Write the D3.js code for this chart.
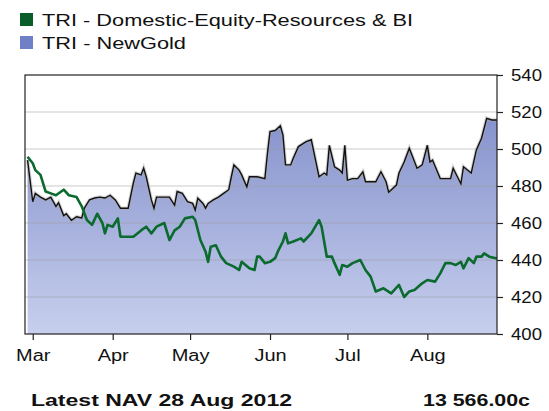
<!DOCTYPE html>
<html>
<head>
<meta charset="utf-8">
<script src="https://cdn.jsdelivr.net/npm/d3@7"></script>
<style>
  body { margin: 0; background: #fff; }
  text { font-family: "Liberation Sans", Arial, sans-serif; }
</style>
</head>
<body>
<div id="chart"></div>
<script>
const seriesNames = ["TRI - Domestic-Equity-Resources & BI", "TRI - NewGold"];

const goldDates = ["2012-02-28","2012-03-01","2012-03-02","2012-03-04","2012-03-06","2012-03-08","2012-03-10","2012-03-11","2012-03-13","2012-03-14","2012-03-16","2012-03-18","2012-03-20","2012-03-21","2012-03-23","2012-03-25","2012-03-27","2012-03-29","2012-03-31","2012-04-02","2012-04-04","2012-04-07","2012-04-09","2012-04-10","2012-04-12","2012-04-13","2012-04-14","2012-04-16","2012-04-17","2012-04-18","2012-04-21","2012-04-23","2012-04-25","2012-04-26","2012-04-28","2012-04-30","2012-05-02","2012-05-03","2012-05-04","2012-05-06","2012-05-07","2012-05-08","2012-05-10","2012-05-12","2012-05-14","2012-05-16","2012-05-17","2012-05-18","2012-05-20","2012-05-21","2012-05-23","2012-05-24","2012-05-27","2012-05-30","2012-05-31","2012-06-01","2012-06-03","2012-06-05","2012-06-06","2012-06-07","2012-06-09","2012-06-10","2012-06-12","2012-06-15","2012-06-17","2012-06-20","2012-06-22","2012-06-23","2012-06-24","2012-06-26","2012-06-28","2012-06-29","2012-06-30","2012-07-01","2012-07-03","2012-07-05","2012-07-07","2012-07-08","2012-07-12","2012-07-14","2012-07-16","2012-07-17","2012-07-20","2012-07-21","2012-07-23","2012-07-25","2012-07-28","2012-07-30","2012-08-01","2012-08-02","2012-08-03","2012-08-06","2012-08-10","2012-08-11","2012-08-14","2012-08-15","2012-08-18","2012-08-20","2012-08-22","2012-08-24","2012-08-26","2012-08-28"];
const goldValues = [494,471.5,476,474,472.5,474,469,471,464,465,461.5,463.4,462.7,468,472.5,473.5,474,473.5,475,472.5,468,468,481.6,487,486,489.6,485,472.5,468,474,474,474,469.7,477,476,471.5,470.6,467,473.4,470.6,468,470.6,472.5,474,476,478,485,491.4,488.6,486,479.6,485,485,484,497.7,509.4,510,512.6,507.6,491.4,491.4,495,501.3,504,505,485,487,486,502,490.4,488.6,487,502,483.2,484,484,487.7,482.3,482.3,487.7,482.3,476.6,480.5,487,493,500.4,489.6,491.4,502,493,494,484,484,489.6,481.2,490.4,487,499.5,505.8,516.6,515.7,515.7];

const equityDates = ["2012-02-28","2012-03-01","2012-03-02","2012-03-04","2012-03-06","2012-03-08","2012-03-10","2012-03-13","2012-03-15","2012-03-18","2012-03-20","2012-03-22","2012-03-24","2012-03-26","2012-03-28","2012-03-29","2012-03-30","2012-04-01","2012-04-03","2012-04-04","2012-04-09","2012-04-12","2012-04-14","2012-04-16","2012-04-18","2012-04-21","2012-04-23","2012-04-25","2012-04-27","2012-04-29","2012-05-02","2012-05-03","2012-05-05","2012-05-07","2012-05-08","2012-05-09","2012-05-11","2012-05-13","2012-05-15","2012-05-18","2012-05-20","2012-05-21","2012-05-24","2012-05-26","2012-05-27","2012-05-28","2012-05-30","2012-06-01","2012-06-03","2012-06-04","2012-06-06","2012-06-07","2012-06-08","2012-06-10","2012-06-13","2012-06-14","2012-06-17","2012-06-20","2012-06-21","2012-06-23","2012-06-25","2012-06-26","2012-06-28","2012-06-29","2012-07-01","2012-07-03","2012-07-06","2012-07-08","2012-07-10","2012-07-12","2012-07-15","2012-07-18","2012-07-21","2012-07-23","2012-07-25","2012-07-27","2012-07-30","2012-08-01","2012-08-04","2012-08-06","2012-08-08","2012-08-10","2012-08-12","2012-08-14","2012-08-15","2012-08-17","2012-08-19","2012-08-20","2012-08-22","2012-08-23","2012-08-25","2012-08-28"];
const equityValues = [495.8,492.3,488.6,486,477,476,475,478,475,474,469,461.6,459,465,460,454.4,459,458,462.5,452.6,452.6,456,458,454.4,458,460,450.8,456,458,462.5,463.4,461.6,450.8,444.5,439,447.2,448,441.8,438.3,436.4,434.6,439,435.5,434.6,441.8,441.8,438.3,439,441,444.5,450,454.4,449,450,451.7,450,454.4,461.6,458,441.8,441.8,438.3,432,437.3,436.4,438.3,440,434.6,431,423,424.7,422,426.5,420,423,423.8,427.4,429.2,428.3,432.8,438.3,438.3,437.3,439,435.5,441,438.3,441.8,441.8,443.6,441.8,440.8];

const yTicks = [400, 420, 440, 460, 480, 500, 520, 540];
const monthTicks = ["2012-03-01","2012-04-01","2012-05-01","2012-06-01","2012-07-01","2012-08-01"];
const footerLeft = "Latest NAV 28 Aug 2012";
const footerRight = "13 566.00c";

const width = 549;
const height = 411;
const margin = { top: 75, right: 52, bottom: 77, left: 25 };
const innerW = width - margin.left - margin.right;
const innerH = height - margin.top - margin.bottom;

const parse = d3.timeParse("%Y-%m-%d");
const gold = goldDates.map((d, i) => ({ date: parse(d), value: goldValues[i] }));
const equity = equityDates.map((d, i) => ({ date: parse(d), value: equityValues[i] }));

const svg = d3.select("#chart")
    .append("svg")
    .attr("width", width)
    .attr("height", height);

const x = d3.scaleTime()
    .domain([parse("2012-02-27"), parse("2012-08-28")])
    .range([margin.left, margin.left + innerW]);

const y = d3.scaleLinear()
    .domain([400, 540])
    .range([margin.top + innerH, margin.top]);

// gradient for the NewGold area
const grad = svg.append("defs").append("linearGradient")
    .attr("id", "goldFill")
    .attr("gradientUnits", "userSpaceOnUse")
    .attr("x1", 0).attr("x2", 0)
    .attr("y1", y(520)).attr("y2", y(400));
grad.append("stop").attr("offset", "0%").attr("stop-color", "#8591cc");
grad.append("stop").attr("offset", "100%").attr("stop-color", "#c7cfed");

const area = d3.area()
    .x(d => x(d.date))
    .y0(y(400))
    .y1(d => y(d.value));

const line = d3.line()
    .x(d => x(d.date))
    .y(d => y(d.value));

svg.append("path")
    .datum(gold)
    .attr("d", area)
    .attr("fill", "url(#goldFill)");

// grid lines
svg.append("g")
    .selectAll("line")
    .data(yTicks.slice(1, -1))
    .enter()
    .append("line")
    .attr("x1", margin.left)
    .attr("x2", margin.left + innerW)
    .attr("y1", d => y(d))
    .attr("y2", d => y(d))
    .style("stroke", "#9a9a9a")
    .style("stroke-opacity", 0.35)
    .style("stroke-width", 1.5);

svg.append("path")
    .datum(gold)
    .attr("d", line)
    .attr("fill", "none")
    .style("stroke", "#aaa")
    .style("stroke-width", 3.5)
    .style("stroke-opacity", 0.5);

svg.append("path")
    .datum(gold)
    .attr("d", line)
    .attr("fill", "none")
    .style("stroke", "#111")
    .style("stroke-width", 1.4);

svg.append("path")
    .datum(equity)
    .attr("d", line)
    .attr("fill", "none")
    .style("stroke", "#0b6b2e")
    .style("stroke-width", 2.6)
    .style("stroke-linejoin", "round");

// frame
svg.append("rect")
    .attr("x", margin.left)
    .attr("y", margin.top)
    .attr("width", innerW)
    .attr("height", innerH)
    .attr("fill", "none")
    .style("stroke", "#222")
    .style("stroke-width", 1.2);

const yAxis = svg.append("g")
    .attr("transform", `translate(${margin.left + innerW},0)`)
    .call(d3.axisRight(y).tickValues(yTicks).tickSize(6).tickPadding(8).tickFormat(d3.format("d")));

const xAxis = svg.append("g")
    .attr("transform", `translate(0,${margin.top + innerH})`)
    .call(d3.axisBottom(x).tickValues(monthTicks.map(parse)).tickSize(6).tickPadding(10).tickFormat(d3.timeFormat("%b")));

[yAxis, xAxis].forEach(g => {
    g.select(".domain").remove();
    g.selectAll("line").style("stroke", "#222").style("stroke-width", 1.2);
    g.selectAll("text")
        .style("font-family", '"Liberation Sans", Arial, sans-serif')
        .style("font-size", "16px")
        .style("fill", "#111");
});
// the source picture has wide lettering, so stretch labels sideways
yAxis.selectAll("text")
    .attr("dy", "0.35em")
    .attr("x", 0)
    .attr("transform", "translate(14,0) scale(1.16,1)");
xAxis.selectAll("text")
    .attr("transform", "scale(1.25,1)");

// legend
const legend = svg.append("g");
const legendColors = ["#0a5c29", "#6f80c6"];
const legendWidths = [371, 144];
seriesNames.forEach((name, i) => {
    legend.append("rect")
        .attr("x", 20)
        .attr("y", 13 + i * 23)
        .attr("width", 13)
        .attr("height", 13)
        .attr("fill", legendColors[i]);
    legend.append("text")
        .attr("x", 42)
        .attr("y", 26 + i * 23)
        .attr("textLength", legendWidths[i])
        .attr("lengthAdjust", "spacingAndGlyphs")
        .style("font-size", "17px")
        .style("fill", "#111")
        .text(name);
});

svg.append("text")
    .attr("x", 31)
    .attr("y", 406)
    .attr("textLength", 261)
    .attr("lengthAdjust", "spacingAndGlyphs")
    .style("font-size", "17px")
    .style("font-weight", "bold")
    .style("fill", "#111")
    .text(footerLeft);

svg.append("text")
    .attr("x", 423)
    .attr("y", 406)
    .attr("textLength", 107)
    .attr("lengthAdjust", "spacingAndGlyphs")
    .style("font-size", "17px")
    .style("font-weight", "bold")
    .style("fill", "#111")
    .text(footerRight);
</script>
</body>
</html>
